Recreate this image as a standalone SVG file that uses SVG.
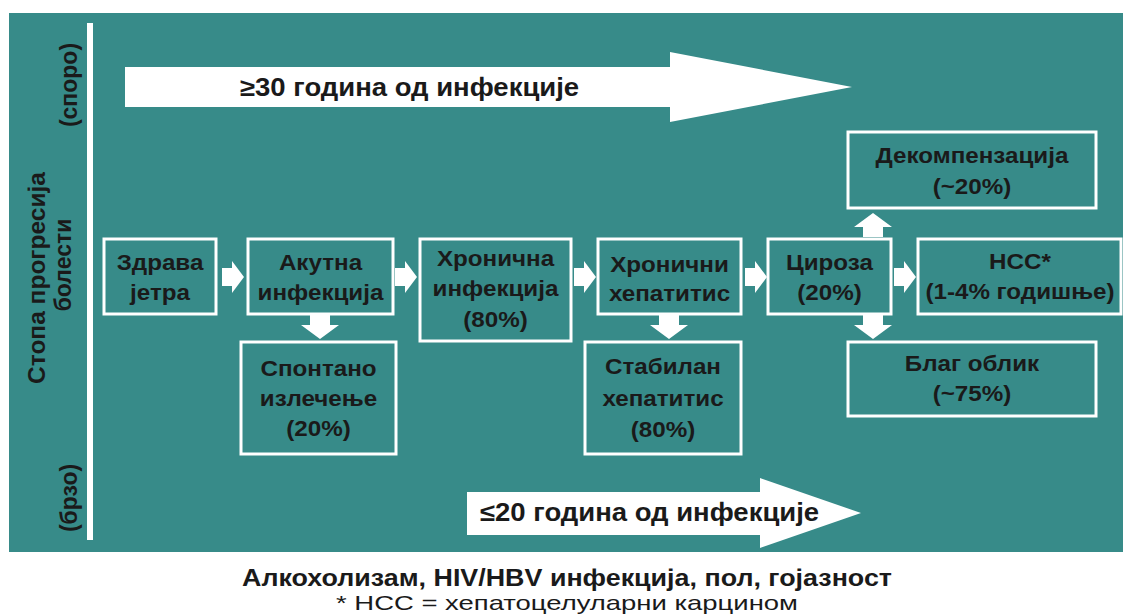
<svg xmlns="http://www.w3.org/2000/svg" width="1123" height="614" viewBox="0 0 1123 614">
<defs>
<style>
.bg{fill:#378b89}
.box{fill:none;stroke:#ffffff;stroke-width:3}
.t{font-family:"Liberation Sans",Arial,sans-serif;font-weight:bold;font-size:22px;fill:#1a1a1a;text-anchor:middle}
.big{font-family:"Liberation Sans",Arial,sans-serif;font-weight:bold;font-size:25px;fill:#1a1a1a}
.vt{font-family:"Liberation Sans",Arial,sans-serif;font-weight:bold;font-size:23px;fill:#1a1a1a;text-anchor:middle}
.foot1{font-family:"Liberation Sans",Arial,sans-serif;font-weight:bold;font-size:23px;fill:#1a1a1a;text-anchor:middle}
.foot2{font-family:"Liberation Sans",Arial,sans-serif;font-size:21px;fill:#1a1a1a;text-anchor:middle}
.arr{fill:#ffffff}
</style>
<path id="ar" d="M0,-9 H10 V-16 L22,0 L10,16 V9 H0 Z"/>
<path id="ad" d="M-10,0 H10 V10 H19 L0,24 L-19,10 H-10 Z"/>
</defs>
<rect width="1123" height="614" fill="#ffffff"/>
<rect class="bg" x="9" y="13" width="1114" height="539"/>
<rect x="87" y="23" width="6" height="517" fill="#ffffff"/>

<g id="axis-labels">
<text class="vt" transform="translate(77,85) rotate(-90)">(споро)</text>
<text class="vt" transform="translate(45,278) rotate(-90)" textLength="212" lengthAdjust="spacingAndGlyphs">Стопа прогресија</text>
<text class="vt" transform="translate(71,265) rotate(-90)">болести</text>
<text class="vt" transform="translate(77,498) rotate(-90)">(брзо)</text>
</g>

<g id="slow-arrow">
<path class="arr" d="M125,67 H670 V52 L852,87 L670,122 V107 H125 Z"/>
<g transform="translate(240,0) scale(1.1,1)"><text class="big" x="0" y="96">≥30 година од инфекције</text></g>
</g>
<g id="fast-arrow">
<path class="arr" d="M467,492 H760 V478 L861,513 L760,548 V535 H467 Z"/>
<g transform="translate(480,0) scale(1.1,1)"><text class="big" x="0" y="521">≤20 година од инфекције</text></g>
</g>

<g id="connectors" class="arr">
<use href="#ar" x="222" y="277"/>
<use href="#ar" x="395" y="277"/>
<use href="#ar" x="574" y="277"/>
<use href="#ar" x="745" y="277"/>
<use href="#ar" x="894" y="277"/>
<use href="#ad" x="320" y="315"/>
<use href="#ad" x="669" y="315"/>
<use href="#ad" x="873" y="315"/>
<use href="#ad" transform="translate(873,237) scale(1,-1)"/>
</g>

<g id="n-zdrava"><rect class="box" x="104" y="239" width="112" height="75"/>
<g transform="translate(160,0) scale(1.1,1)"><text class="t" x="0" y="270">Здрава</text><text class="t" x="0" y="300">јетра</text></g></g>
<g id="n-akutna"><rect class="box" x="248" y="239" width="145" height="75"/>
<g transform="translate(320.5,0) scale(1.1,1)"><text class="t" x="0" y="270">Акутна</text><text class="t" x="0" y="300">инфекција</text></g></g>
<g id="n-hron-inf"><rect class="box" x="420" y="239" width="151" height="102"/>
<g transform="translate(495.5,0) scale(1.1,1)"><text class="t" x="0" y="266">Хронична</text><text class="t" x="0" y="296">инфекција</text><text class="t" x="0" y="327">(80%)</text></g></g>
<g id="n-hron-hep"><rect class="box" x="598" y="239" width="143" height="75"/>
<g transform="translate(669.5,0) scale(1.1,1)"><text class="t" x="0" y="272">Хронични</text><text class="t" x="0" y="301">хепатитис</text></g></g>
<g id="n-ciroza"><rect class="box" x="768" y="239" width="123" height="75"/>
<g transform="translate(829.5,0) scale(1.1,1)"><text class="t" x="0" y="270">Цироза</text><text class="t" x="0" y="300">(20%)</text></g></g>
<g id="n-hcc"><rect class="box" x="918" y="239" width="203" height="75"/>
<g transform="translate(1020,0) scale(1.1,1)"><text class="t" x="0" y="269">HCC*</text><text class="t" x="0" y="299">(1-4% годишње)</text></g></g>
<g id="n-dekomp"><rect class="box" x="848" y="132" width="248" height="76"/>
<g transform="translate(972,0) scale(1.1,1)"><text class="t" x="0" y="163">Декомпензација</text><text class="t" x="0" y="194">(~20%)</text></g></g>
<g id="n-spontano"><rect class="box" x="241" y="342" width="155" height="112"/>
<g transform="translate(318.5,0) scale(1.1,1)"><text class="t" x="0" y="376">Спонтано</text><text class="t" x="0" y="406">излечење</text><text class="t" x="0" y="436">(20%)</text></g></g>
<g id="n-stabilan"><rect class="box" x="585" y="342" width="156" height="112"/>
<g transform="translate(663,0) scale(1.1,1)"><text class="t" x="0" y="374">Стабилан</text><text class="t" x="0" y="406">хепатитис</text><text class="t" x="0" y="437">(80%)</text></g></g>
<g id="n-blag"><rect class="box" x="848" y="342" width="248" height="74"/>
<g transform="translate(972,0) scale(1.1,1)"><text class="t" x="0" y="371">Благ облик</text><text class="t" x="0" y="401">(~75%)</text></g></g>

<g id="footer">
<text class="foot1" x="567" y="586" textLength="650" lengthAdjust="spacingAndGlyphs">Алкохолизам, HIV/HBV инфекција, пол, гојазност</text>
<text class="foot2" x="567" y="610" textLength="462" lengthAdjust="spacingAndGlyphs">* HCC = хепатоцелуларни карцином</text>
</g>
</svg>
